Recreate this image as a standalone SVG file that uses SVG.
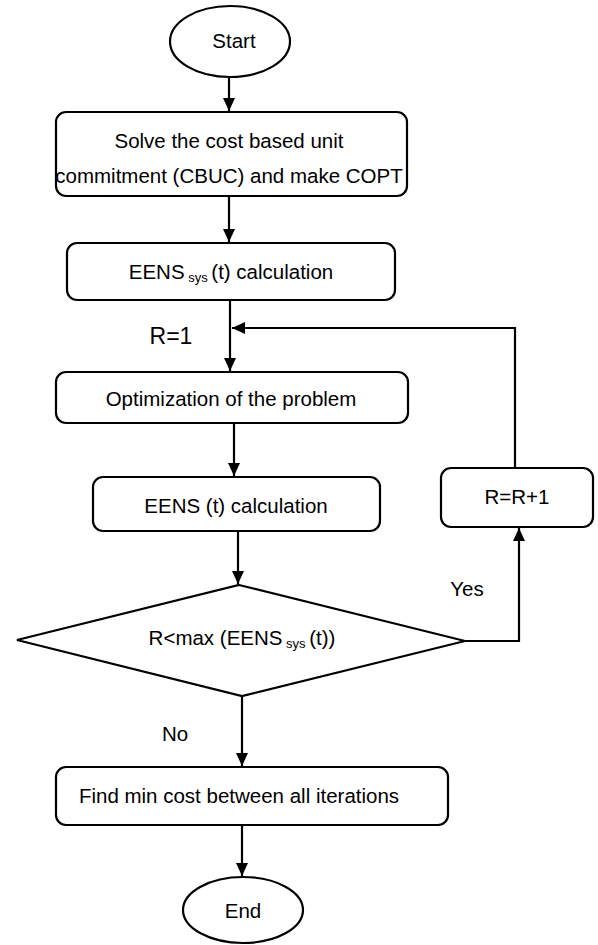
<svg xmlns="http://www.w3.org/2000/svg" width="598" height="945" viewBox="0 0 598 945">
<style>
.s{fill:#fff;stroke:#000;stroke-width:2.2}
.t{font-family:"Liberation Sans",Arial,sans-serif;font-size:20.5px;fill:#000;text-anchor:middle}
.sub{font-size:13px}
.c{fill:none;stroke:#000;stroke-width:2.2}
</style>
<defs>
<marker id="ah" markerUnits="userSpaceOnUse" markerWidth="14" markerHeight="14" viewBox="0 0 14 14" refX="13" refY="7" orient="auto">
<path d="M0,1 L13,7 L0,13 Z" fill="#000"/>
</marker>
</defs>
<rect width="598" height="945" fill="#fff"/>
<g id="connectors">
<path class="c" d="M229,77 V111" marker-end="url(#ah)"/>
<path class="c" d="M229,196 V242" marker-end="url(#ah)"/>
<path class="c" d="M230,300 V371" marker-end="url(#ah)"/>
<path class="c" d="M515,468 V328 H232" marker-end="url(#ah)"/>
<path class="c" d="M234,423 V476" marker-end="url(#ah)"/>
<path class="c" d="M238,531 V584" marker-end="url(#ah)"/>
<path class="c" d="M465,641 H519 V528" marker-end="url(#ah)"/>
<path class="c" d="M242,696 V766" marker-end="url(#ah)"/>
<path class="c" d="M242,825 V876" marker-end="url(#ah)"/>
</g>
<g id="start">
<ellipse class="s" cx="230" cy="41.5" rx="60" ry="35.5"/>
<text class="t" x="234" y="48">Start</text>
</g>
<g id="cbuc">
<rect class="s" x="56" y="112" width="351" height="84" rx="10"/>
<text class="t" x="229" y="148">Solve the cost based unit</text>
<text class="t" x="229" y="183">commitment (CBUC) and make COPT</text>
</g>
<g id="eens-sys">
<rect class="s" x="67" y="243" width="328" height="57" rx="10"/>
<text class="t" x="231" y="279">EENS<tspan class="sub" dy="3"> sys </tspan><tspan dy="-3">(t) calculation</tspan></text>
</g>
<text class="t" x="171" y="344" style="font-size:23px">R=1</text>
<g id="optimization">
<rect class="s" x="56" y="372" width="352" height="51" rx="10"/>
<text class="t" x="231" y="406">Optimization of the problem</text>
</g>
<g id="eens-t">
<rect class="s" x="93" y="477" width="287" height="54" rx="10"/>
<text class="t" x="236" y="513">EENS (t) calculation</text>
</g>
<g id="r-inc">
<rect class="s" x="441" y="468" width="152" height="59" rx="10"/>
<text class="t" x="517" y="504">R=R+1</text>
</g>
<g id="decision">
<polygon class="s" points="239,585 465,641 242,696 17,640"/>
<text class="t" x="242" y="645">R&lt;max (EENS<tspan class="sub" dy="3"> sys </tspan><tspan dy="-3">(t))</tspan></text>
</g>
<text class="t" x="467" y="596">Yes</text>
<text class="t" x="175" y="741">No</text>
<g id="find-min">
<rect class="s" x="56" y="767" width="392" height="58" rx="10"/>
<text class="t" x="239" y="803">Find min cost between all iterations</text>
</g>
<g id="end">
<ellipse class="s" cx="243" cy="910" rx="60" ry="33"/>
<text class="t" x="243" y="918">End</text>
</g>
</svg>
